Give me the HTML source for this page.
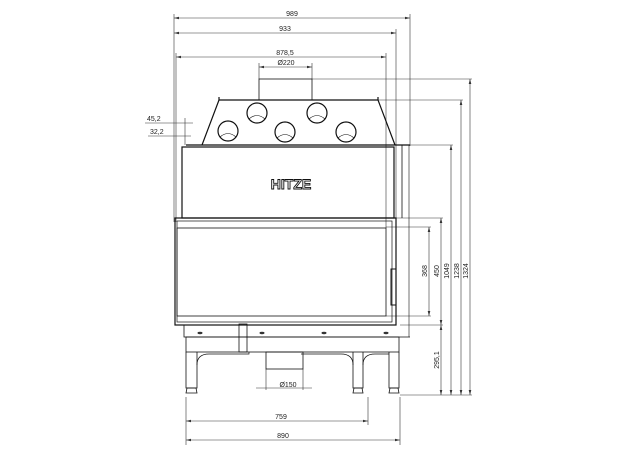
<!DOCTYPE html>
<html><head><style>body{margin:0;background:#fff}svg{display:block}text{font-family:"Liberation Sans",sans-serif;font-size:7px;fill:#222}</style></head><body>
<svg width="624" height="460" viewBox="0 0 624 460" xmlns="http://www.w3.org/2000/svg">
<g stroke="#333" stroke-width="0.6" fill="none">
<line x1="174" y1="14" x2="174" y2="222"/>
<line x1="410" y1="14" x2="410" y2="146"/>
<line x1="396" y1="29" x2="396" y2="222"/>
<line x1="386" y1="53" x2="386" y2="228"/>
<line x1="176" y1="53" x2="176" y2="222"/>
<line x1="259" y1="63" x2="259" y2="79"/><line x1="312" y1="63" x2="312" y2="79"/>
<line x1="174" y1="18" x2="410" y2="18"/>
<line x1="174" y1="33" x2="396" y2="33"/>
<line x1="176" y1="57" x2="386" y2="57"/>
<line x1="259" y1="67" x2="312" y2="67"/>
<line x1="312" y1="79" x2="472" y2="79"/>
<line x1="378" y1="100" x2="463" y2="100"/>
<line x1="402" y1="145" x2="453" y2="145"/>
<line x1="396" y1="218" x2="443" y2="218"/>
<line x1="386" y1="227" x2="431" y2="227"/>
<line x1="386" y1="316" x2="431" y2="316"/>
<line x1="400" y1="325" x2="443" y2="325"/>
<line x1="400" y1="395" x2="472" y2="395"/>
<line x1="429" y1="227" x2="429" y2="316"/>
<line x1="441" y1="218" x2="441" y2="395"/>
<line x1="451" y1="145" x2="451" y2="395"/>
<line x1="461" y1="100" x2="461" y2="395"/>
<line x1="470" y1="79" x2="470" y2="395"/>
<line x1="145" y1="123" x2="193" y2="123"/>
<line x1="148" y1="136" x2="191" y2="136"/>
<line x1="185" y1="118" x2="185" y2="145"/>
<line x1="186" y1="397" x2="186" y2="445"/>
<line x1="368" y1="397" x2="368" y2="425"/>
<line x1="400" y1="397" x2="400" y2="445"/>
<line x1="186" y1="421" x2="368" y2="421"/>
<line x1="186" y1="440" x2="400" y2="440"/>
<line x1="256" y1="388" x2="312" y2="388"/>
<line x1="266" y1="369" x2="266" y2="390"/><line x1="303" y1="369" x2="303" y2="390"/>
</g>
<g fill="#333">
<path d="M174 18l5-1.3v2.6zM410 18l-5-1.3v2.6zM174 33l5-1.3v2.6zM396 33l-5-1.3v2.6zM176 57l5-1.3v2.6zM386 57l-5-1.3v2.6zM259 67l5-1.3v2.6zM312 67l-5-1.3v2.6z"/>
<path d="M186 421l5-1.3v2.6zM368 421l-5-1.3v2.6zM186 440l5-1.3v2.6zM400 440l-5-1.3v2.6z"/>
<path d="M429 227l-1.3 5h2.6zM429 316l-1.3-5h2.6zM441 218l-1.3 5h2.6zM441 325l-1.3-5h2.6zM441 325l-1.3 5h2.6zM441 395l-1.3-5h2.6zM451 145l-1.3 5h2.6zM451 395l-1.3-5h2.6zM461 100l-1.3 5h2.6zM461 395l-1.3-5h2.6zM470 79l-1.3 5h2.6zM470 395l-1.3-5h2.6z"/>
</g>
<g stroke="#111" stroke-width="1.2" fill="none">
<rect x="259" y="79" width="53" height="21" stroke-width="0.8"/>
<path d="M219 97v3h159v-3M219 100l-17 45M378 100l17 45"/>
<circle cx="257" cy="113" r="10"/><circle cx="317" cy="113" r="10"/>
<circle cx="228" cy="131" r="10"/><circle cx="285" cy="132" r="10"/><circle cx="346" cy="132" r="10"/>
<g stroke-width="0.6">
<path d="M249 119q8-7 16 0M309 119q8-7 16 0M220 137q8-7 16 0M277 138q8-7 16 0M338 138q8-7 16 0"/>
</g>
<rect x="182" y="147" width="212" height="71"/>
<line x1="186" y1="145" x2="410" y2="145"/>
<line x1="402" y1="145" x2="402" y2="218" stroke-width="0.8"/>
<line x1="409" y1="145" x2="409" y2="337" stroke-width="0.6"/>
<rect x="175" y="218" width="221" height="107"/>
<rect x="177" y="221" width="215" height="101" stroke-width="0.7"/>
<rect x="177" y="228" width="209" height="88" stroke-width="0.8"/>
<rect x="391" y="269" width="5" height="36" stroke-width="1"/>
<path d="M184 325v12h226" stroke-width="0.8"/>
<rect x="186" y="337" width="213" height="15" stroke-width="0.8"/>
<rect x="239" y="324" width="8" height="28" stroke-width="0.8"/>
<rect x="266" y="352" width="37" height="17" stroke-width="0.8"/>
<path d="M186 352v36h11v-36M389 352v36h10v-36M353 352v36h10v-36" stroke-width="0.8"/>
<path d="M197 365q0-11 12-11h40v-2M353 365q0-11-12-11h-40M363 365q0-11 12-11h14" stroke-width="0.7"/>
<path d="M187 388h9l1 5h-11zM354 388h8l1 5h-10zM390 388h8l1 5h-10z" stroke-width="0.8"/>
</g>
<g fill="#333">
<ellipse cx="200" cy="333" rx="2.5" ry="1.2"/><ellipse cx="262" cy="333" rx="2.5" ry="1.2"/><ellipse cx="324" cy="333" rx="2.5" ry="1.2"/><ellipse cx="386" cy="333" rx="2.5" ry="1.2"/>
</g>
<text x="291" y="189" text-anchor="middle" style="font-size:14px;font-weight:bold;fill:none;stroke:#111;stroke-width:0.9">HITZE</text>
<text x="292" y="16" text-anchor="middle">989</text>
<text x="285" y="31" text-anchor="middle">933</text>
<text x="285" y="55" text-anchor="middle">878,5</text>
<text x="286" y="65" text-anchor="middle">Ø220</text>
<text x="147" y="121">45,2</text>
<text x="150" y="134">32,2</text>
<text x="288" y="387" text-anchor="middle">Ø150</text>
<text x="281" y="419" text-anchor="middle">759</text>
<text x="283" y="438" text-anchor="middle">890</text>
<g text-anchor="middle">
<text transform="translate(427,271) rotate(-90)">368</text>
<text transform="translate(439,271) rotate(-90)">450</text>
<text transform="translate(449,271) rotate(-90)">1049</text>
<text transform="translate(459,271) rotate(-90)">1238</text>
<text transform="translate(468,271) rotate(-90)">1324</text>
<text transform="translate(439,360) rotate(-90)">295,1</text>
</g>
</svg>
</body></html>
